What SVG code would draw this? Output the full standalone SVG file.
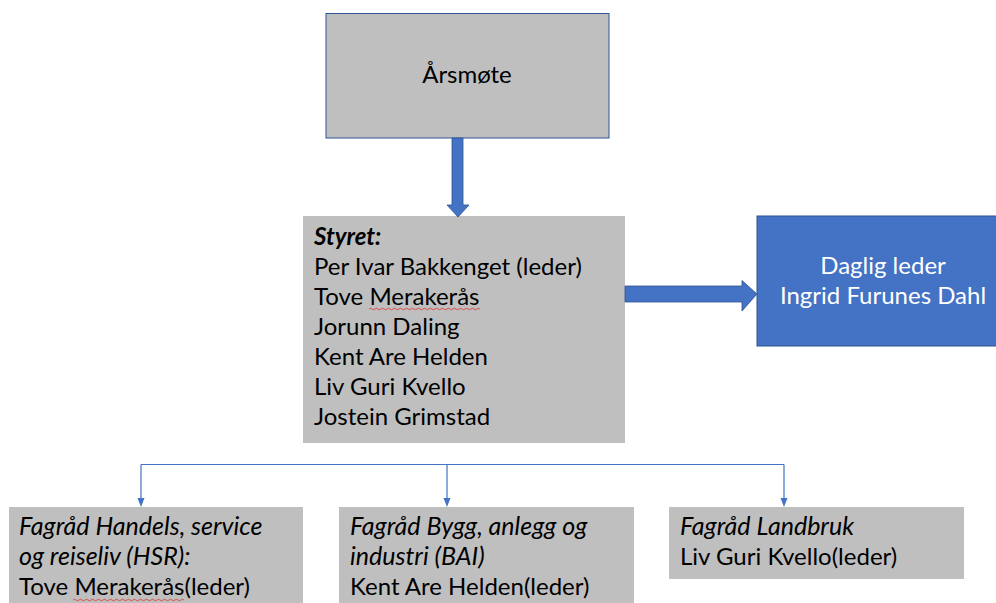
<svg xmlns="http://www.w3.org/2000/svg" width="996" height="603" viewBox="0 0 996 603">
<style>
.box{fill:#bfbfbf}
.t{font-family:Lato,"Liberation Sans",sans-serif;font-size:24px;fill:#000}
.i{font-style:italic;font-size:25px}
.w{fill:#fff;text-anchor:middle}
.con{stroke:#4472c4;stroke-width:1.2;fill:none}
.sq{stroke:#e03030;stroke-width:0.8;fill:none}
</style>
<rect width="996" height="603" fill="#fff"/>
<g id="arsmote">
<rect class="box" x="326" y="13.5" width="283" height="124.5" stroke="#2f5597" stroke-width="1"/>
<text class="t" x="467" y="83" text-anchor="middle">Årsmøte</text>
</g>
<g id="styret">
<rect class="box" x="303" y="216" width="322" height="227"/>
<text class="t" x="314" y="245" font-weight="bold" font-style="italic">Styret:</text>
<text class="t" x="314" y="275">Per Ivar Bakkenget (leder)</text>
<text class="t" x="314" y="305">Tove Merakerås</text>
<text class="t" x="314" y="335">Jorunn Daling</text>
<text class="t" x="314" y="365">Kent Are Helden</text>
<text class="t" x="314" y="395">Liv Guri Kvello</text>
<text class="t" x="314" y="425">Jostein Grimstad</text>
<path class="sq" d="M369,309 q1.5,-1.5 3,0 t3,0 t3,0 t3,0 t3,0 t3,0 t3,0 t3,0 t3,0 t3,0 t3,0 t3,0 t3,0 t3,0 t3,0 t3,0 t3,0 t3,0 t3,0 t3,0 t3,0 t3,0 t3,0 t3,0 t3,0 t3,0 t3,0 t3,0 t3,0 t3,0 t3,0 t3,0 t3,0 t3,0 t3,0 t3,0 t3,0"/>
</g>
<g id="daglig">
<rect x="757" y="216" width="240" height="130" fill="#4472c4" stroke="#2f528f" stroke-width="1"/>
<text class="t w" x="883" y="274">Daglig leder</text>
<text class="t w" x="883" y="304">Ingrid Furunes Dahl</text>
</g>
<g id="hsr">
<rect class="box" x="9" y="507" width="294" height="100"/>
<text class="t i" x="19" y="535">Fagråd Handels, service</text>
<text class="t i" x="19" y="565">og reiseliv (HSR):</text>
<text class="t" x="19" y="595">Tove Merakerås(leder)</text>
<path class="sq" d="M73,600 q1.5,-1.5 3,0 t3,0 t3,0 t3,0 t3,0 t3,0 t3,0 t3,0 t3,0 t3,0 t3,0 t3,0 t3,0 t3,0 t3,0 t3,0 t3,0 t3,0 t3,0 t3,0 t3,0 t3,0 t3,0 t3,0 t3,0 t3,0 t3,0 t3,0 t3,0 t3,0 t3,0 t3,0 t3,0 t3,0 t3,0 t3,0 t3,0"/>
</g>
<g id="bai">
<rect class="box" x="339" y="507" width="295" height="100"/>
<text class="t i" x="350" y="535">Fagråd Bygg, anlegg og</text>
<text class="t i" x="350" y="565">industri (BAI)</text>
<text class="t" x="350" y="595">Kent Are Helden(leder)</text>
</g>
<g id="landbruk">
<rect class="box" x="669" y="507" width="295" height="72"/>
<text class="t i" x="680" y="535">Fagråd Landbruk</text>
<text class="t" x="680" y="565">Liv Guri Kvello(leder)</text>
</g>
<g id="connectors">
<path d="M452,138 H463 V205 H469 L458,217 L447,205 H452 Z" fill="#4472c4" stroke="#2f528f" stroke-width="0.8"/>
<path d="M625,286 H742 V280.5 L757,294 L742,311 V302 H625 Z" fill="#4472c4" stroke="#2f528f" stroke-width="0.8"/>
<path class="con" d="M141,464.5 H784"/>
<path class="con" d="M141,464.5 V499"/>
<path class="con" d="M447,464.5 V499"/>
<path class="con" d="M784,464.5 V499"/>
<path d="M137.5,498 H144.5 L141,507 Z M443.5,498 H450.5 L447,507 Z M780.5,498 H787.5 L784,507 Z" fill="#4472c4"/>
</g>
</svg>
